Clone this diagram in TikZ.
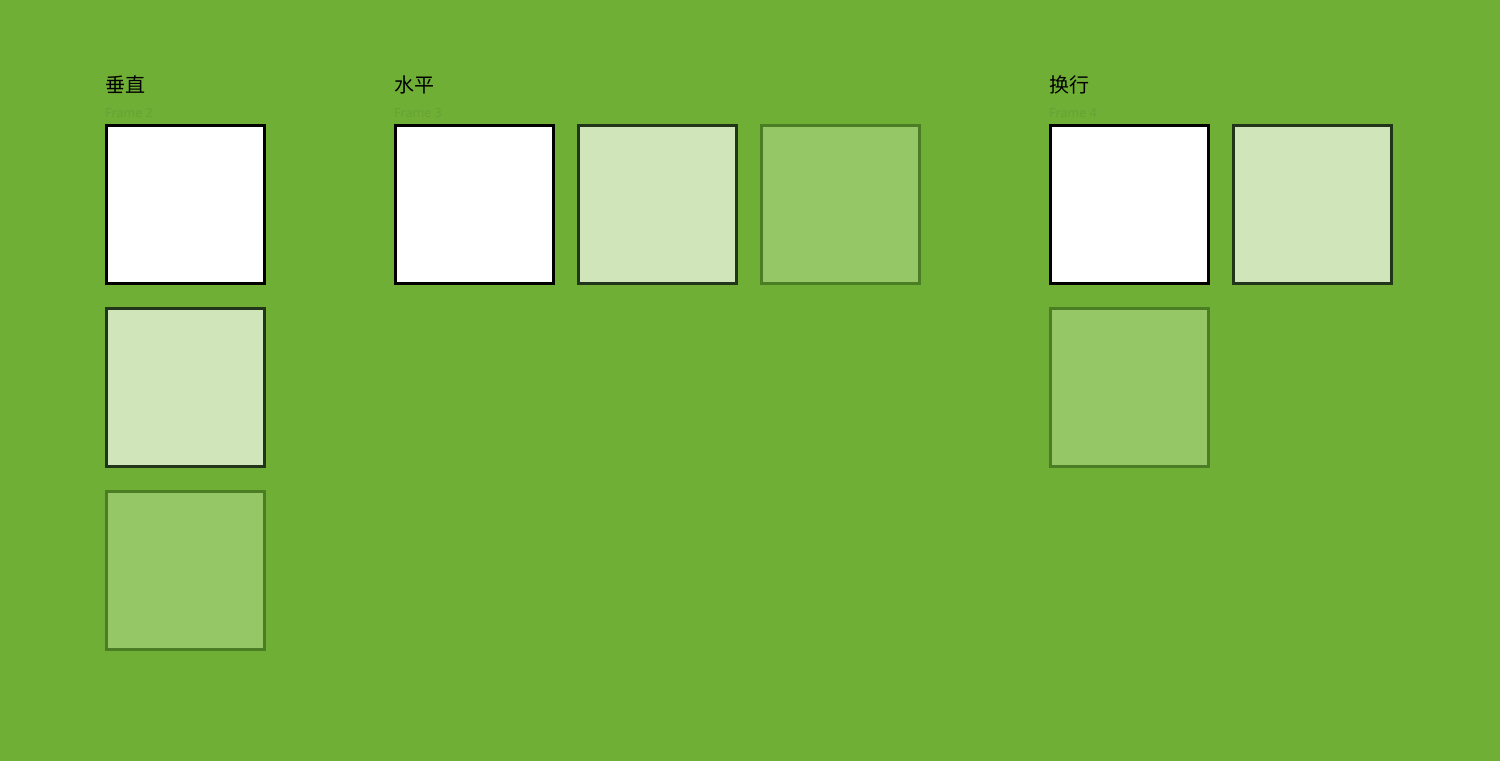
\documentclass[tikz,border=0pt]{standalone}
\usepackage{fontspec}
\newfontfamily\cjk{Noto Sans CJK SC}
\setmainfont{Noto Sans}
\usepackage{xcolor}
\definecolor{bggreen}{HTML}{6FAF36}
\definecolor{paleleaf}{HTML}{D0E6BA}
\definecolor{midleaf}{HTML}{96C766}
\definecolor{darkrim}{HTML}{22341A}
\definecolor{leafrim}{HTML}{4A7D24}
\definecolor{framegray}{HTML}{68A234}

\begin{document}
\begin{tikzpicture}[x=1pt, y=-1pt,
    box/.style={draw, line width=3pt, minimum size=158.5pt, inner sep=0pt},
    first/.style={box, fill=white, draw=black},
    second/.style={box, fill=paleleaf, draw=darkrim},
    third/.style={box, fill=midleaf, draw=leafrim},
    title/.style={anchor=base west, inner sep=0pt, font=\cjk\fontsize{20}{24}\selectfont},
    framename/.style={anchor=base west, inner sep=0pt, text=framegray, font=\fontsize{12.5}{14}\selectfont}]
    \fill[bggreen] (0,0) rectangle (1500,761);
    \useasboundingbox (0,0) rectangle (1500,761);

    % Vertical
    \node[title] (vtitle) at (105,92) {垂直};
    \node[framename] (vframe) at (105,117.5) {Frame 2};
    \node[first] (v1) at (185.5,204.5) {};
    \node[second] (v2) at (185.5,387.5) {};
    \node[third] (v3) at (185.5,570.5) {};

    % Horizontal
    \node[title] (htitle) at (394,92) {水平};
    \node[framename] (hframe) at (394,117.5) {Frame 3};
    \node[first] (h1) at (474.5,204.5) {};
    \node[second] (h2) at (657.5,204.5) {};
    \node[third] (h3) at (840.5,204.5) {};

    % Wrap
    \node[title] (wtitle) at (1049,92) {换行};
    \node[framename] (wframe) at (1049,117.5) {Frame 4};
    \node[first] (w1) at (1129.5,204.5) {};
    \node[second] (w2) at (1312.5,204.5) {};
    \node[third] (w3) at (1129.5,387.5) {};
\end{tikzpicture}
\end{document}
